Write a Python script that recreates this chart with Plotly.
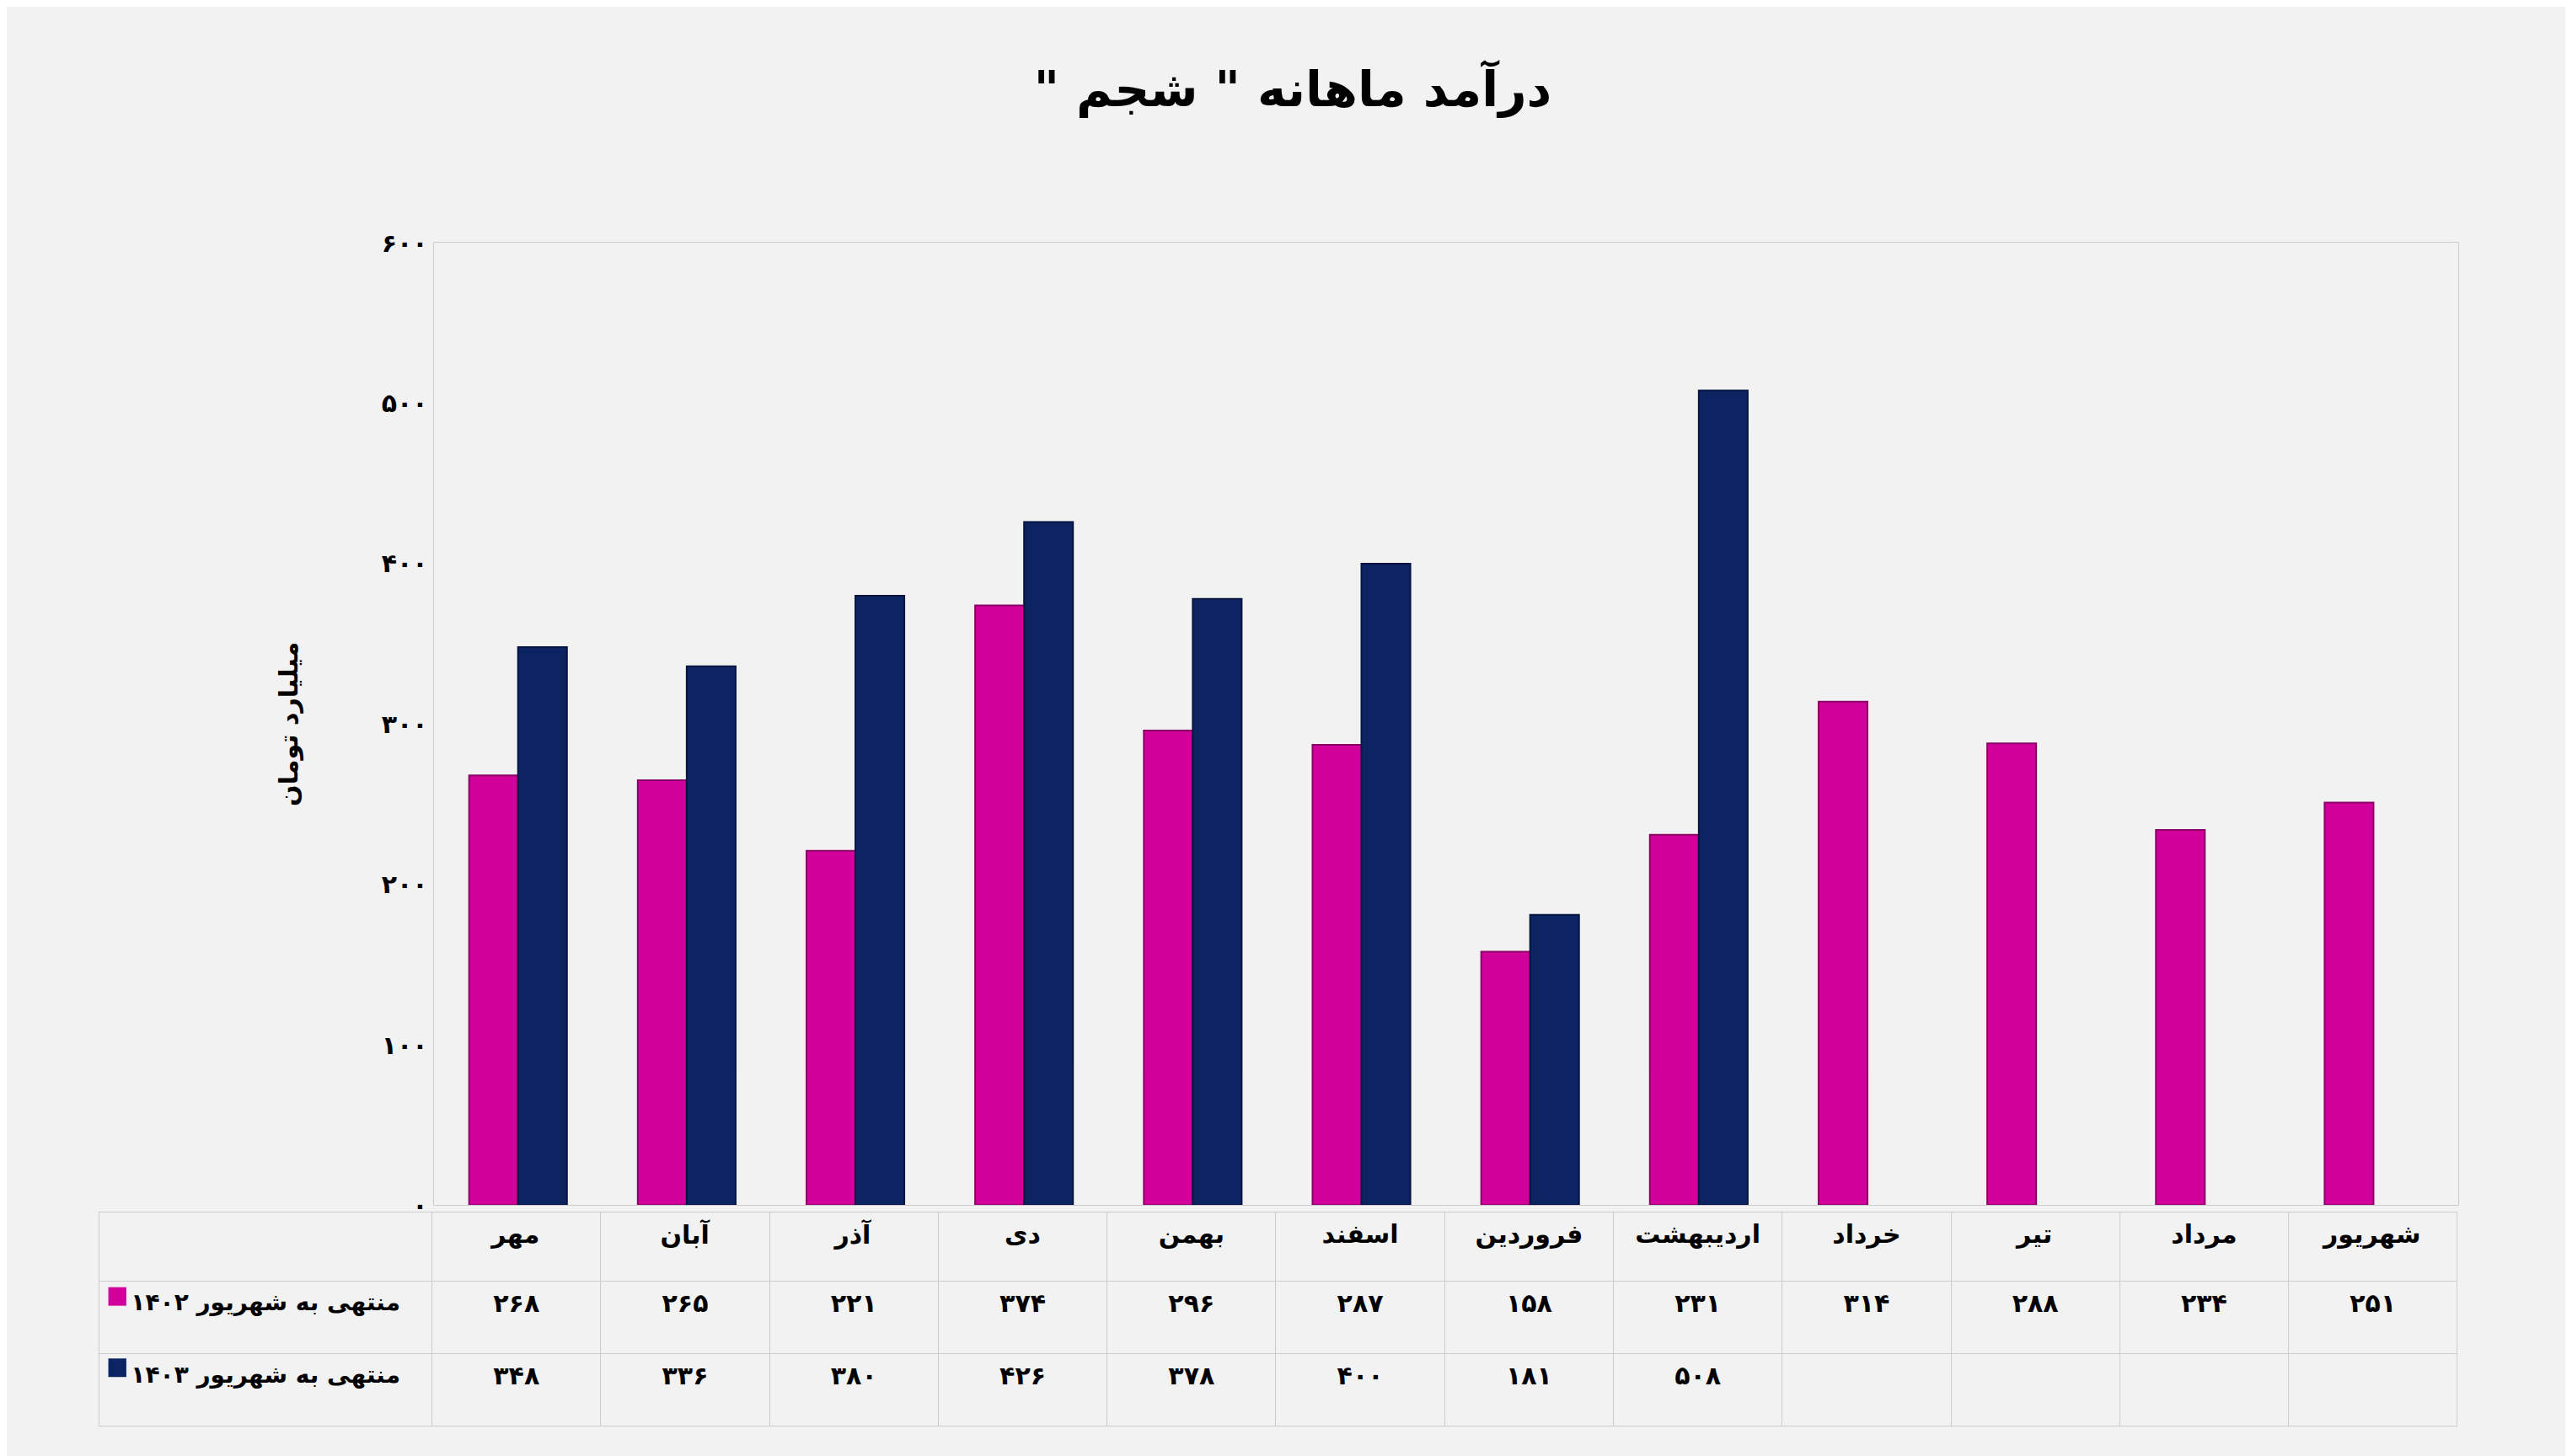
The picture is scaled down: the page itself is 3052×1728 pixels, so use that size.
import plotly.graph_objects as go

months = ["مهر", "آبان", "آذر", "دی", "بهمن", "اسفند", "فروردین", "اردیبهشت", "خرداد", "تیر", "مرداد", "شهریور"]
s1402 = [268, 265, 221, 374, 296, 287, 158, 231, 314, 288, 234, 251]
s1403 = [348, 336, 380, 426, 378, 400, 181, 508, None, None, None, None]
name1402 = "منتهی به شهریور ۱۴۰۲"
name1403 = "منتهی به شهریور ۱۴۰۳"
yticks = [0, 100, 200, 300, 400, 500, 600]

PINK = "#d1009a"
NAVY = "#0d2463"
FONT = "DejaVu Sans"

def fa(n):
    if n is None:
        return ""
    return str(n).translate(str.maketrans("0123456789", "۰۱۲۳۴۵۶۷۸۹"))

fig = go.Figure()
fig.add_bar(x=months, y=s1402, name=name1402, marker=dict(color=PINK, line=dict(color="#8a0066", width=2)))
fig.add_bar(x=months, y=s1403, name=name1403, marker=dict(color=NAVY, line=dict(color="#061540", width=2)))

fig.add_trace(go.Table(
    domain=dict(x=[0.036, 0.953], y=[0.0, 0.165]),
    columnwidth=[203] + [103] * 12,
    header=dict(values=[""] + ["<b>%s</b>" % m for m in months], height=82,
                fill_color="#f2f2f2", line_color="#cccccc",
                font=dict(size=30, color="black", family=FONT), align="center"),
    cells=dict(values=[["<b>%s</b>" % name1402, "<b>%s</b>" % name1403]] +
               [["<b>%s</b>" % fa(a), "<b>%s</b>" % fa(b)] for a, b in zip(s1402, s1403)],
               height=86, fill_color="#f2f2f2", line_color="#cccccc",
               font=dict(size=[28] + [30] * 12, color="black", family=FONT),
               align=["center"] + ["center"] * 12),
))

# legend squares in the table's first column
for yy, col in [(0.106, PINK), (0.056, NAVY)]:
    fig.add_shape(type="rect", xref="paper", yref="paper",
                  x0=0.0395, x1=0.0465, y0=yy - 0.0065, y1=yy + 0.0065,
                  fillcolor=col, line=dict(width=0))

fig.update_layout(
    width=3052, height=1728,
    paper_bgcolor="#f2f2f2", plot_bgcolor="#f2f2f2",
    font=dict(family=FONT, color="black"),
    title=dict(text='<b>\u200fدرآمد ماهانه " شجم "\u200f</b>', x=0.5, y=0.955, xanchor="center",
               font=dict(size=58, family=FONT)),
    showlegend=False,
    bargap=0.42, bargroupgap=0.0,
    margin=dict(l=0, r=0, t=0, b=0),
    xaxis=dict(domain=[0.166, 0.953], showticklabels=False, showline=True, linecolor="#cccccc",
               mirror=True, showgrid=False),
    yaxis=dict(domain=[0.17, 0.845], range=[0, 600], tickvals=yticks,
               ticktext=["<b>%s</b>" % fa(v) for v in yticks], tickfont=dict(size=30),
               showgrid=False, showline=True, linecolor="#cccccc", mirror=True, zeroline=False,
               title=dict(text="<b>میلیارد تومان</b>", font=dict(size=30), standoff=90)),
)
fig.write_html("out.html")
